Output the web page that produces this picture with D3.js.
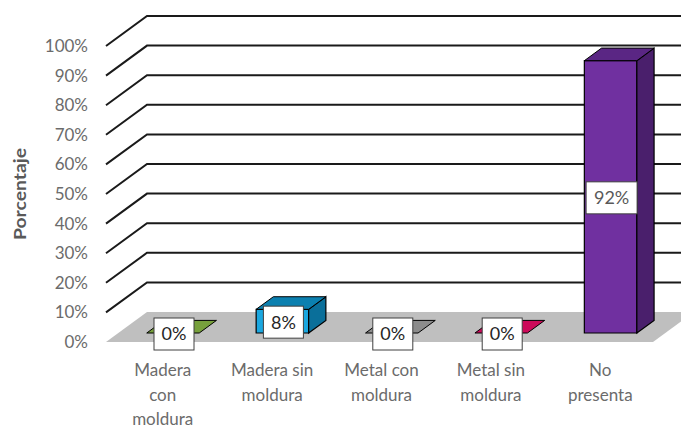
<!DOCTYPE html>
<html>
<head>
<meta charset="utf-8">
<script src="https://cdn.jsdelivr.net/npm/d3@7"></script>
<style>
  body { margin: 0; background: #fff; }
  text { font-family: Lato, "Liberation Sans", sans-serif; }
</style>
</head>
<body>
<svg id="chart" width="681" height="428"></svg>
<script>
// chart data
var categories = ["Madera con moldura", "Madera sin moldura", "Metal con moldura", "Metal sin moldura", "No presenta"];
var catLines = [["Madera", "con", "moldura"], ["Madera sin", "moldura"], ["Metal con", "moldura"], ["Metal sin", "moldura"], ["No", "presenta"]];
var values = [0, 0.08, 0, 0, 0.92];
var labels = ["0%", "8%", "0%", "0%", "92%"];
var yTicks = [0, 0.1, 0.2, 0.3, 0.4, 0.5, 0.6, 0.7, 0.8, 0.9, 1];
var frontColors = ["#77a03c", "#1aa7e0", "#8c8c8c", "#cc0a5a", "#7030a0"];
var sideColors = ["#5a7a2c", "#0a6f9a", "#6a6a6a", "#9a0844", "#4a1f6c"];
var topColors = ["#6a8f34", "#0b80b0", "#7a7a7a", "#b0094e", "#5a2684"];

var svg = d3.select("#chart");

var left = 106, right = 653;
var depthX = 41, depthY = -30; // full depth of the floor
var y = d3.scaleLinear().domain([0, 1]).range([342, 46]);
var x = d3.scaleBand().domain(categories).range([left, right]).paddingInner(0.52).paddingOuter(0.26);

function off(t) { return [depthX * t, depthY * t]; }

// floor
var back = off(1);
svg.append("polygon")
  .attr("points", [[left, y(0)], [right, y(0)], [right + back[0], y(0) + back[1]], [left + back[0], y(0) + back[1]]].join(" "))
  .style("fill", "#bfbfbf");

// gridlines with their depth
yTicks.slice(1).forEach(function(t) {
  svg.append("polyline")
    .attr("points", [[left, y(t)], [left + back[0], y(t) + back[1]], [681, y(t) + back[1]]].join(" "))
    .style("fill", "none")
    .style("stroke", "#1a1a1a")
    .style("stroke-width", 2);
});

// y tick labels
svg.selectAll(".ytick").data(yTicks).enter().append("text")
  .attr("class", "ytick")
  .attr("x", 88)
  .attr("y", function(d) { return y(d); })
  .attr("dy", "0.35em")
  .attr("text-anchor", "end")
  .style("font-size", "17px")
  .style("fill", "#6b6b6b")
  .text(function(d) { return Math.round(d * 100) + "%"; });

// axis title
svg.append("text")
  .attr("transform", "translate(26,194) rotate(-90)")
  .attr("text-anchor", "middle")
  .attr("textLength", 92)
  .attr("lengthAdjust", "spacingAndGlyphs")
  .style("font-size", "17px")
  .style("font-weight", "bold")
  .style("fill", "#595959")
  .text("Porcentaje");

// bars
var t0 = 0.3, t1 = 0.72;
var f = off(t0), b = off(t1);
categories.forEach(function(c, i) {
  var x0 = x(c) + f[0], x1 = x0 + x.bandwidth();
  var yb = y(0) + f[1], yt = y(values[i]) + f[1];
  var dx = b[0] - f[0], dy = b[1] - f[1];
  var g = svg.append("g");
  if (values[i] > 0) {
    g.append("polygon")
      .attr("points", [[x0, yb], [x1, yb], [x1, yt], [x0, yt]].join(" "))
      .style("fill", frontColors[i]).style("stroke", "#000").style("stroke-width", 1.2);
    g.append("polygon")
      .attr("points", [[x1, yb], [x1 + dx, yb + dy], [x1 + dx, yt + dy], [x1, yt]].join(" "))
      .style("fill", sideColors[i]).style("stroke", "#000").style("stroke-width", 1.2);
  }
  g.append("polygon")
    .attr("points", [[x0, yt], [x1, yt], [x1 + dx, yt + dy], [x0 + dx, yt + dy]].join(" "))
    .style("fill", values[i] > 0 ? topColors[i] : frontColors[i]).style("stroke", "#000").style("stroke-width", 1);

  // data label
  var cx = (x0 + x1) / 2 + 1, cy = (yb + yt) / 2 + 1;
  var w = labels[i].length > 2 ? 51 : 40, h = 32;
  g.append("rect")
    .attr("x", cx - w / 2).attr("y", cy - h / 2)
    .attr("width", w).attr("height", h)
    .style("fill", "#fff").style("stroke", "#404040").style("stroke-width", 1);
  g.append("text")
    .attr("x", cx).attr("y", cy)
    .attr("dy", "0.36em")
    .attr("text-anchor", "middle")
    .style("font-size", "18px")
    .style("fill", i == 4 ? "#595959" : "#262626")
    .text(labels[i]);
});

// category labels
categories.forEach(function(c, i) {
  var cx = x(c) + x.bandwidth() / 2 + 2;
  svg.append("text")
    .attr("text-anchor", "middle")
    .style("font-size", "17px")
    .style("fill", "#6b6b6b")
    .selectAll("tspan").data(catLines[i]).enter().append("tspan")
    .attr("x", cx)
    .attr("y", function(d, k) { return 376 + k * 24.5; })
    .text(function(d) { return d; });
});
</script>
</body>
</html>
